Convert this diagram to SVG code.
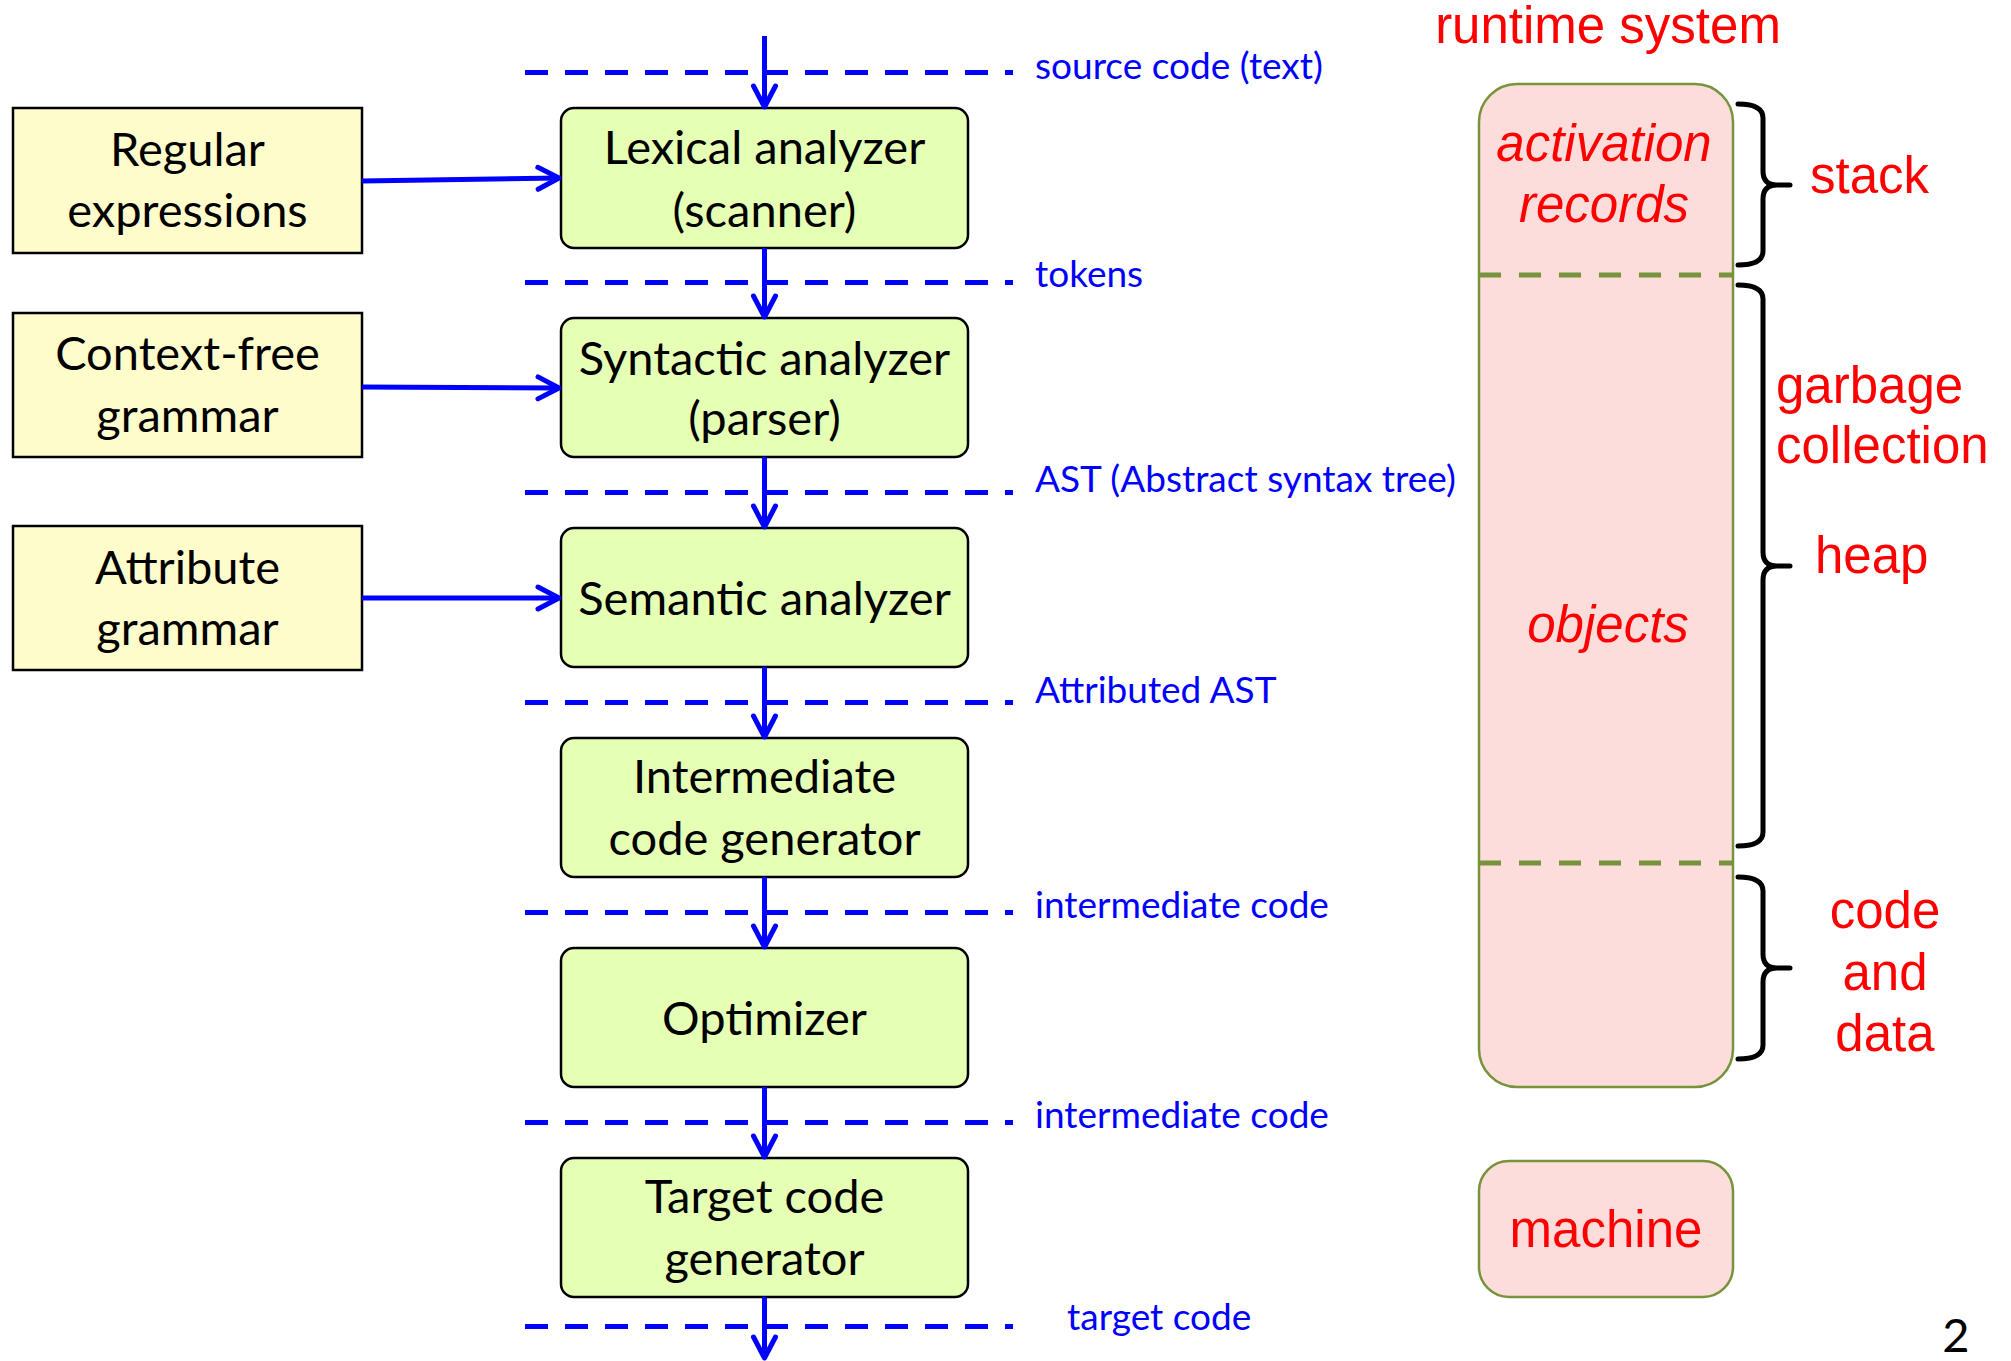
<svg xmlns="http://www.w3.org/2000/svg" width="2011" height="1361" viewBox="0 0 2011 1361">
<defs>
<style>
.src{fill:#FFFCCC;stroke:#000;stroke-width:2.5}
.stage{fill:#E5FFB4;stroke:#000;stroke-width:2.5}
.rt{fill:#FDDCDC;stroke:#77933C;stroke-width:2.5}
.t{font-family:Lato,"Open Sans",sans-serif;font-size:47px;fill:#000;text-anchor:middle}
.b{font-family:Lato,"Open Sans",sans-serif;font-size:37px;fill:#0000FF}
.r{font-family:"Liberation Sans",Arial,sans-serif;font-size:51px;fill:#FF0000}
.ri{font-style:italic;text-anchor:middle}
.m{text-anchor:middle}
.arr{stroke:#0000FF;stroke-width:5;fill:none;marker-end:url(#ah)}
.dash{stroke:#0000FF;stroke-width:5;stroke-dasharray:23 17;fill:none}
.odash{stroke:#77933C;stroke-width:5;stroke-dasharray:22 18;fill:none}
.brace{stroke:#000;stroke-width:5;fill:none;stroke-linecap:round;stroke-linejoin:round}
</style>
<marker id="ah" markerUnits="userSpaceOnUse" markerWidth="40" markerHeight="40" viewBox="-30 -20 40 40" refX="0" refY="0" orient="auto" style="overflow:visible">
<path d="M-21,-11 L0,0 L-21,11" fill="none" stroke="#0000FF" stroke-width="5" stroke-linecap="round" stroke-linejoin="round"/>
</marker>
</defs>
<rect width="2011" height="1361" fill="#FFFFFF"/>

<g id="dividers">
<path class="dash" d="M525,72.5H1013M525,282.5H1013M525,492.5H1013M525,702.5H1013M525,912.5H1013M525,1122.5H1013M525,1326.5H1013"/>
</g>

<g id="labels">
<text class="b" x="1035" y="79">source code (text)</text>
<text class="b" x="1035" y="287">tokens</text>
<text class="b" x="1035" y="492">AST (Abstract syntax tree)</text>
<text class="b" x="1035" y="703">Attributed AST</text>
<text class="b" x="1035" y="918">intermediate code</text>
<text class="b" x="1035" y="1128">intermediate code</text>
<text class="b" x="1067" y="1330">target code</text>
</g>

<g id="node-regex">
<rect class="src" x="13" y="108" width="349" height="145"/>
<text class="t" x="187.5" y="166">Regular</text>
<text class="t" x="187.5" y="227">expressions</text>
</g>
<g id="node-cfg">
<rect class="src" x="13" y="313" width="349" height="144"/>
<text class="t" x="187.5" y="370">Context-free</text>
<text class="t" x="187.5" y="432">grammar</text>
</g>
<g id="node-attr">
<rect class="src" x="13" y="526" width="349" height="144"/>
<text class="t" x="187.5" y="584">Attribute</text>
<text class="t" x="187.5" y="645">grammar</text>
</g>

<g id="node-lexical">
<rect class="stage" x="561" y="108" width="407" height="140" rx="13"/>
<text class="t" x="764.5" y="164">Lexical analyzer</text>
<text class="t" x="764.5" y="227">(scanner)</text>
</g>
<g id="node-syntactic">
<rect class="stage" x="561" y="318" width="407" height="139" rx="13"/>
<text class="t" x="764.5" y="375">Syntactic analyzer</text>
<text class="t" x="764.5" y="435">(parser)</text>
</g>
<g id="node-semantic">
<rect class="stage" x="561" y="528" width="407" height="139" rx="13"/>
<text class="t" x="764.5" y="615">Semantic analyzer</text>
</g>
<g id="node-intermediate">
<rect class="stage" x="561" y="738" width="407" height="139" rx="13"/>
<text class="t" x="764.5" y="793">Intermediate</text>
<text class="t" x="764.5" y="855">code generator</text>
</g>
<g id="node-optimizer">
<rect class="stage" x="561" y="948" width="407" height="139" rx="13"/>
<text class="t" x="764.5" y="1035">Optimizer</text>
</g>
<g id="node-target">
<rect class="stage" x="561" y="1158" width="407" height="139" rx="13"/>
<text class="t" x="764.5" y="1213">Target code</text>
<text class="t" x="764.5" y="1275">generator</text>
</g>

<g id="connectors">
<path class="arr" d="M764.5,36V107"/>
<path class="arr" d="M764.5,248V317"/>
<path class="arr" d="M764.5,457V527"/>
<path class="arr" d="M764.5,667V737"/>
<path class="arr" d="M764.5,877V947"/>
<path class="arr" d="M764.5,1087V1157"/>
<path class="arr" d="M764.5,1297V1358"/>
<path class="arr" d="M362,181L559,178"/>
<path class="arr" d="M362,387L559,388"/>
<path class="arr" d="M362,598L559,598"/>
</g>

<g id="runtime-title">
<text class="r m" x="1608" y="43">runtime system</text>
</g>

<g id="node-runtime">
<rect class="rt" x="1479" y="84" width="254" height="1003" rx="38"/>
<path class="odash" d="M1479,275H1733M1479,863H1733"/>
<text class="r ri" x="1604" y="161">activation</text>
<text class="r ri" x="1604" y="222">records</text>
<text class="r ri" x="1608" y="642">objects</text>
</g>

<g id="node-machine">
<rect class="rt" x="1479" y="1161" width="254" height="136" rx="30"/>
<text class="r m" x="1606" y="1247">machine</text>
</g>

<g id="brace-stack">
<path class="brace" d="M1738,104Q1763,104 1763,118V171Q1763,185 1777,185H1790M1777,185Q1763,185 1763,199V251Q1763,265 1738,265"/>
<text class="r" x="1810" y="193">stack</text>
</g>
<g id="brace-heap">
<path class="brace" d="M1738,285Q1763,285 1763,299V552Q1763,566 1777,566H1790M1777,566Q1763,566 1763,580V832Q1763,846 1738,846"/>
<text class="r" x="1776" y="403">garbage</text>
<text class="r" x="1776" y="463">collection</text>
<text class="r" x="1815" y="573">heap</text>
</g>
<g id="brace-code">
<path class="brace" d="M1738,877Q1763,877 1763,891V954Q1763,968 1777,968H1790M1777,968Q1763,968 1763,982V1045Q1763,1059 1738,1059"/>
<text class="r m" x="1885" y="928">code</text>
<text class="r m" x="1885" y="990">and</text>
<text class="r m" x="1885" y="1051">data</text>
</g>

<text class="t" x="1956" y="1352">2</text>
</svg>
